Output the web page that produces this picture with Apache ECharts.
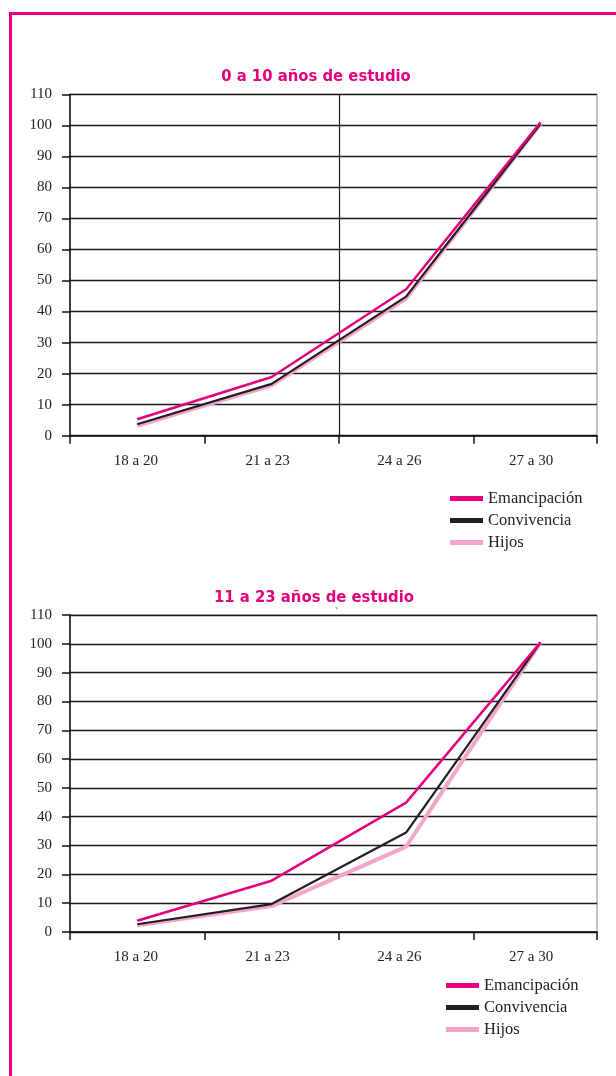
<!DOCTYPE html>
<html>
<head>
<meta charset="utf-8">
<script src="https://cdn.jsdelivr.net/npm/echarts@6/dist/echarts.min.js"></script>
<style>
html,body{margin:0;padding:0;background:#fff;}
#frame{position:absolute;left:9px;top:12px;width:800px;height:1200px;border-left:3px solid #E5007D;border-top:3px solid #E5007D;box-sizing:border-box;}
#chart{position:absolute;left:0;top:0;width:616px;height:1076px;}
</style>
</head>
<body>
<div id="frame"></div>
<div id="chart"></div>
<script>
// ---- data ----
const categories = ['18 a 20', '21 a 23', '24 a 26', '27 a 30'];
const seriesNames = ['Emancipación', 'Convivencia', 'Hijos'];
const yTicks = [0, 10, 20, 30, 40, 50, 60, 70, 80, 90, 100, 110];

const titleTop = '0 a 10 años de estudio';
const top_emancipacion = [5.3, 18.9, 47.2, 101];
const top_convivencia  = [3.7, 16.7, 44.8, 100.5];
const top_hijos        = [3.2, 16.2, 44.2, 100.5];

const titleBottom = '11 a 23 años de estudio';
const bot_emancipacion = [3.9, 17.8, 44.9, 100.5];
const bot_convivencia  = [2.7, 9.7, 34.5, 100.5];
const bot_hijos        = [2.3, 9.0, 29.6, 100.5];

// ---- chart ----
const colors = { 'Emancipación': '#E5007D', 'Convivencia': '#231F20', 'Hijos': '#F3A6C9' };
const widths = { 'Emancipación': 2.5, 'Convivencia': 2.2, 'Hijos': 4 };
const zs = { 'Emancipación': 5, 'Convivencia': 4, 'Hijos': 3 };
const serif = 'Liberation Serif';
const condensed = "'Liberation Sans Narrow', 'DejaVu Sans Condensed', 'Roboto Condensed', 'Liberation Sans', sans-serif";

function pts(arr) { return arr.map((v, i) => [i + 0.5, v]); }

function xAxes(gi) {
  return [
    {
      type: 'value', gridIndex: gi, min: 0, max: 3.92, interval: 1,
      axisLine: { show: true, lineStyle: { color: '#111', width: 1.5 } },
      axisTick: { show: true, length: 8, lineStyle: { color: '#111', width: 1.5 } },
      axisLabel: { show: false },
      splitLine: { show: false }
    },
    {
      type: 'category', gridIndex: gi, data: categories, boundaryGap: true, position: 'bottom',
      axisLine: { show: false }, axisTick: { show: false }, splitLine: { show: false },
      axisLabel: { margin: 18, fontFamily: serif, fontSize: 15, color: '#222' }
    }
  ];
}
function yAxis(gi) {
  return {
    type: 'value', gridIndex: gi, min: yTicks[0], max: yTicks[yTicks.length - 1], interval: yTicks[1] - yTicks[0],
    axisLine: { show: true, lineStyle: { color: '#111', width: 1.5 } },
    axisTick: { show: true, length: 8, lineStyle: { color: '#111', width: 1.5 } },
    axisLabel: { margin: 18, fontFamily: serif, fontSize: 15, color: '#222' },
    splitLine: { show: true, lineStyle: { color: '#1a1a1a', width: 1.4 } }
  };
}
function mkSeries(gi, name, arr, extra) {
  const s = {
    type: 'line', name: name, xAxisIndex: gi * 2, yAxisIndex: gi,
    data: pts(arr), symbol: 'none', z: zs[name],
    lineStyle: { color: colors[name], width: widths[name] },
    itemStyle: { color: colors[name] }
  };
  return Object.assign(s, extra || {});
}
function legend(left, top) {
  return {
    data: seriesNames, orient: 'vertical', left: left, top: top,
    icon: 'rect', itemWidth: 33, itemHeight: 5, itemGap: 5,
    textStyle: { fontFamily: serif, fontSize: 16.5, color: '#222', lineHeight: 16 }
  };
}

const option = {
  animation: false,
  backgroundColor: 'transparent',
  title: [
    { text: titleTop, left: 311, top: 63, textAlign: 'center',
      textStyle: { fontFamily: condensed, fontWeight: 'bold', fontSize: 16.5, color: '#E5007D' } },
    { text: titleBottom, left: 309, top: 584, textAlign: 'center',
      textStyle: { fontFamily: condensed, fontWeight: 'bold', fontSize: 16.5, color: '#E5007D' } }
  ],
  grid: [
    { left: 70, right: 19, top: 94.3, height: 341.4, show: true, borderColor: '#888', borderWidth: 1 },
    { left: 70, right: 19, top: 615, height: 317, show: true, borderColor: '#888', borderWidth: 1 }
  ],
  xAxis: xAxes(0).concat(xAxes(1)),
  yAxis: [yAxis(0), yAxis(1)],
  legend: [legend(445, 485), legend(441, 972)],
  graphic: [
    { type: 'text', left: 335, top: 607, style: { text: '`', fontFamily: serif, fontSize: 10, fill: '#333' } }
  ],
  series: [
    mkSeries(0, 'Hijos', top_hijos),
    mkSeries(0, 'Convivencia', top_convivencia),
    mkSeries(0, 'Emancipación', top_emancipacion, {
      markLine: { silent: true, symbol: 'none', label: { show: false },
        lineStyle: { color: '#1a1a1a', width: 1.2, type: 'solid' }, data: [{ xAxis: 2 }] }
    }),
    mkSeries(1, 'Hijos', bot_hijos),
    mkSeries(1, 'Convivencia', bot_convivencia),
    mkSeries(1, 'Emancipación', bot_emancipacion)
  ]
};
const chart = echarts.init(document.getElementById('chart'), null, { renderer: 'canvas' });
chart.setOption(option);
</script>
</body>
</html>
